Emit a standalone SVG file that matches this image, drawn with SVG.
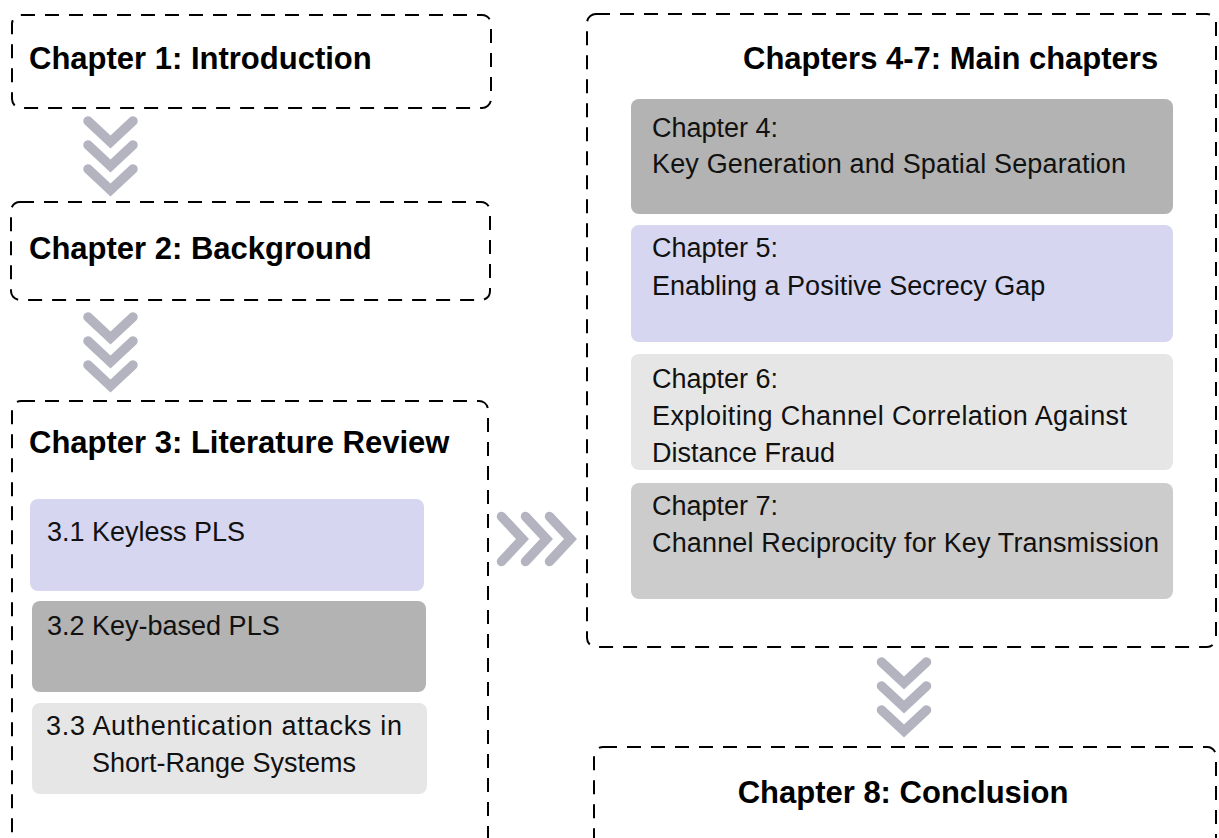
<svg xmlns="http://www.w3.org/2000/svg" width="1219" height="838" viewBox="0 0 1219 838">
  <defs>
    <style>
      .frame { fill: none; stroke: #000; stroke-width: 2; stroke-dasharray: 14 10; }
      .title { font-family: "Liberation Sans", Arial, sans-serif; font-weight: bold; font-size: 31px; fill: #000; }
      .label { font-family: "Liberation Sans", Arial, sans-serif; font-size: 27px; fill: #111; }
      .chev { fill: none; stroke: #b4b4c0; stroke-width: 9.5; stroke-linecap: round; stroke-linejoin: miter; }
      .lav { fill: #d6d6f0; }
      .g70 { fill: #b3b3b3; }
      .g80 { fill: #cccccc; }
      .g90 { fill: #e6e6e6; }
    </style>
    <path id="chev" class="chev" d="M-22.5,-10.5 L0,10.5 L22.5,-10.5"/>
  </defs>
  <rect width="1219" height="838" fill="#fff"/>

  <g id="ch1">
    <rect class="frame" x="12" y="15" width="479" height="93" rx="9"/>
    <text class="title" x="29" y="69">Chapter 1: Introduction</text>
  </g>

  <g id="ch2">
    <rect class="frame" x="11" y="202" width="479" height="98" rx="9"/>
    <text class="title" x="29" y="259">Chapter 2: Background</text>
  </g>

  <g id="ch3">
    <rect class="frame" x="12" y="401" width="476" height="470" rx="9"/>
    <text class="title" x="29" y="453">Chapter 3: Literature Review</text>
  </g>

  <g id="sec31">
    <rect class="lav" x="30" y="499" width="394" height="92" rx="8"/>
    <text class="label" x="47" y="541">3.1 Keyless PLS</text>
  </g>

  <g id="sec32">
    <rect class="g70" x="32" y="601" width="394" height="91" rx="8"/>
    <text class="label" x="47" y="635">3.2 Key-based PLS</text>
  </g>

  <g id="sec33">
    <rect class="g90" x="32" y="703" width="395" height="91" rx="8"/>
    <text class="label" x="46" y="735" textLength="356">3.3 Authentication attacks in</text>
    <text class="label" x="224" y="772" text-anchor="middle">Short-Range Systems</text>
  </g>

  <g id="main">
    <rect class="frame" x="587" y="14" width="629" height="633" rx="9"/>
    <text class="title" x="743" y="69">Chapters 4-7: Main chapters</text>
  </g>

  <g id="ch4">
    <rect class="g70" x="631" y="99" width="542" height="115" rx="8"/>
    <text class="label" x="652" y="137">Chapter 4:</text>
    <text class="label" x="652" y="173" textLength="474">Key Generation and Spatial Separation</text>
  </g>

  <g id="ch5">
    <rect class="lav" x="631" y="225" width="542" height="117" rx="8"/>
    <text class="label" x="652" y="257">Chapter 5:</text>
    <text class="label" x="652" y="295">Enabling a Positive Secrecy Gap</text>
  </g>

  <g id="ch6">
    <rect class="g90" x="631" y="354" width="542" height="116" rx="8"/>
    <text class="label" x="652" y="388">Chapter 6:</text>
    <text class="label" x="652" y="425" textLength="475">Exploiting Channel Correlation Against</text>
    <text class="label" x="652" y="462">Distance Fraud</text>
  </g>

  <g id="ch7">
    <rect class="g80" x="631" y="483" width="542" height="116" rx="8"/>
    <text class="label" x="652" y="515">Chapter 7:</text>
    <text class="label" x="652" y="552" textLength="507">Channel Reciprocity for Key Transmission</text>
  </g>

  <g id="ch8">
    <rect class="frame" x="594" y="747" width="622" height="120" rx="9"/>
    <text class="title" x="903" y="803" text-anchor="middle">Chapter 8: Conclusion</text>
  </g>

  <g id="connectors">
    <use href="#chev" transform="translate(110.5,131.5)"/>
    <use href="#chev" transform="translate(110.5,155.5)"/>
    <use href="#chev" transform="translate(110.5,179.5)"/>

    <use href="#chev" transform="translate(110.5,327.5)"/>
    <use href="#chev" transform="translate(110.5,351.5)"/>
    <use href="#chev" transform="translate(110.5,375.5)"/>

    <use href="#chev" transform="translate(512,539) rotate(-90)"/>
    <use href="#chev" transform="translate(536,539) rotate(-90)"/>
    <use href="#chev" transform="translate(560,539) rotate(-90)"/>

    <use href="#chev" transform="translate(904,672.5)"/>
    <use href="#chev" transform="translate(904,696.5)"/>
    <use href="#chev" transform="translate(904,720.5)"/>
  </g>
</svg>
